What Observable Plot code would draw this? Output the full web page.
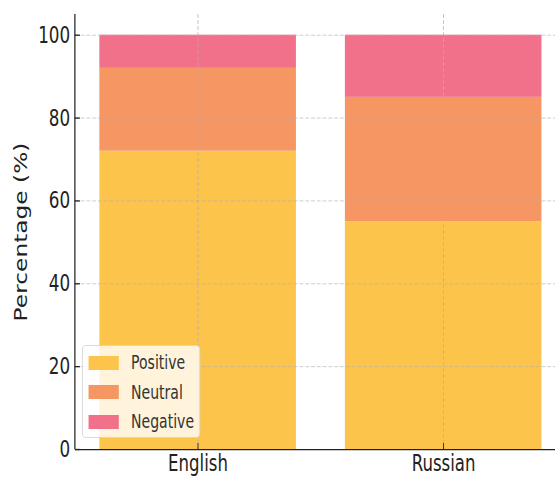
<!DOCTYPE html>
<html><head><meta charset="utf-8">
<script src="https://cdn.jsdelivr.net/npm/d3@7"></script>
<script src="https://cdn.jsdelivr.net/npm/@observablehq/plot@0.6"></script>
<style>
html,body{margin:0;background:#fff;overflow:hidden;}
#outer{position:relative;width:555px;height:477px;overflow:hidden;}
#wrap{position:absolute;left:0;top:0;width:771px;height:477px;transform:scaleX(0.72);transform-origin:0 0;font-family:"DejaVu Sans",sans-serif;}
#legend{position:absolute;left:114px;top:345px;width:164px;height:93px;background:rgba(255,255,255,0.8);border:1.2px solid #d4d4d4;border-radius:5px;box-sizing:border-box;}
.row{position:absolute;left:8px;height:14px;display:flex;align-items:center;font-size:19.5px;color:#333;white-space:nowrap;}
.sw{width:42px;height:14px;margin-right:17px;flex:none;}
</style></head>
<body><div id="outer"><div id="wrap"></div></div>
<script>
const languages = ["English", "Russian"];
const sentiments = ["Positive", "Neutral", "Negative"];
const positive = [72, 55];
const neutral = [20, 30];
const negative = [8, 15];
const colors = ["#FDC44B", "#F69662", "#F07189"];
const yTicks = [0, 20, 40, 60, 80, 100];

const series = [positive, neutral, negative];
const data = [];
languages.forEach((l, i) => sentiments.forEach((s, j) => data.push({language: l, sentiment: s, value: series[j][i]})));

const font = '"DejaVu Sans",sans-serif';
const chart = Plot.plot({
  width: 771, height: 477,
  marginLeft: 104, marginTop: 14, marginBottom: 28, marginRight: -15,
  style: {fontFamily: font, background: "transparent", overflow: "visible"},
  x: {domain: languages, paddingInner: 0.2, paddingOuter: 0.1},
  y: {domain: [0, 105]},
  color: {domain: sentiments, range: colors},
  marks: [
    Plot.barY(data, {x: "language", y: "value", fill: "sentiment"}),
    Plot.gridY(yTicks, {stroke: "#b0b0b0", strokeOpacity: 0.9, strokeDasharray: "5.5,2.5", strokeWidth: 0.8}),
    Plot.gridX(languages, {stroke: "#b0b0b0", strokeOpacity: 0.9, strokeDasharray: "4,2", strokeWidth: 1.1}),
    Plot.axisY(yTicks, {tickSize: -7, tickPadding: 14, fontSize: 23.3, color: "#222", stroke: "#222", strokeWidth: 1.3, label: "Percentage (%)", labelAnchor: "center", labelArrow: "none", labelOffset: 84}),
    Plot.axisX({tickSize: -6, tickPadding: 11, fontSize: 23, color: "#222", stroke: "#222", label: null}),
    Plot.ruleY([0], {stroke: "#222", strokeWidth: 1.25}),
  ]
});
const wrap = document.getElementById("wrap");
wrap.appendChild(chart);
const svg = d3.select(chart);
// left spine
svg.append("line").attr("x1", 104).attr("x2", 104).attr("y1", 14).attr("y2", 449).attr("stroke", "#222").attr("stroke-width", 1.7);

const leg = document.createElement("div");
leg.id = "legend";
sentiments.forEach((s, i) => {
  const r = document.createElement("div");
  r.className = "row";
  r.style.top = (9.5 + i * 29.5) + "px";
  r.innerHTML = `<div class="sw" style="background:${colors[i]}"></div><span>${s}</span>`;
  leg.appendChild(r);
});
wrap.appendChild(leg);
</script></body></html>
